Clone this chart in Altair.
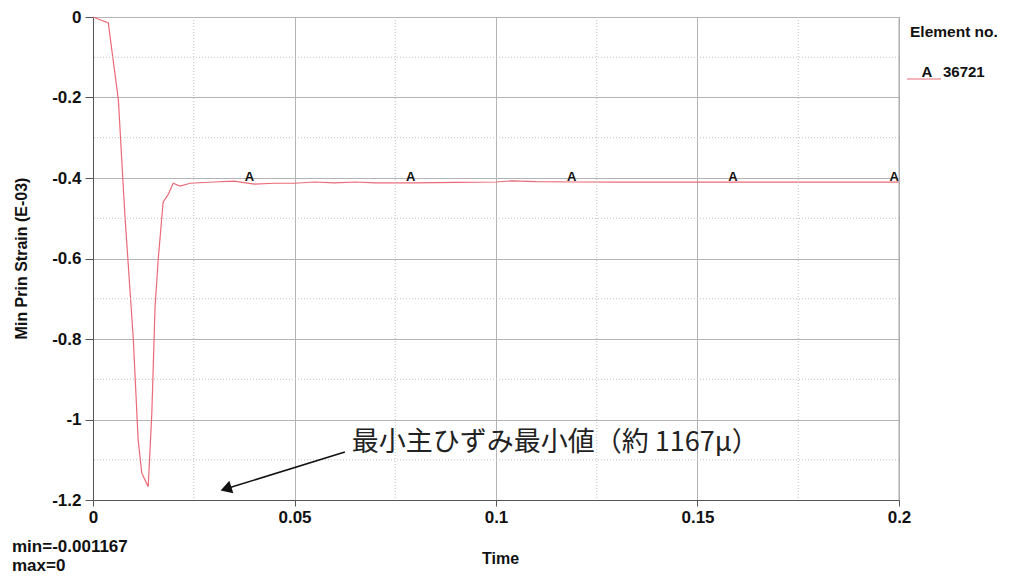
import altair as alt
import pandas as pd

# ---- data ----
time = [0.0, 0.0038, 0.0050, 0.0063, 0.0075, 0.0079, 0.0100, 0.0112, 0.0121, 0.0137,
        0.0146, 0.0154, 0.0162, 0.0174, 0.0187, 0.0199, 0.0216, 0.0241, 0.030, 0.035,
        0.040, 0.045, 0.050, 0.055, 0.060, 0.065, 0.070, 0.080, 0.090, 0.100, 0.104,
        0.110, 0.120, 0.130, 0.140, 0.150, 0.160, 0.170, 0.180, 0.190, 0.200]
strain = [0.0, -0.015, -0.107, -0.206, -0.42, -0.49, -0.80, -1.05, -1.133, -1.167,
          -0.984, -0.72, -0.60, -0.46, -0.44, -0.413, -0.42, -0.413, -0.41, -0.408,
          -0.415, -0.413, -0.413, -0.41, -0.412, -0.41, -0.412, -0.412, -0.411, -0.41, -0.407,
          -0.409, -0.41, -0.41, -0.41, -0.41, -0.41, -0.41, -0.41, -0.41, -0.41]

marker_time = [0.0388, 0.0788, 0.1188, 0.1588, 0.1988]
marker_label = ["A", "A", "A", "A", "A"]
marker_level = -0.397

x_major = [0, 0.05, 0.1, 0.15, 0.2]
x_minor = [0.025, 0.075, 0.125, 0.175]
y_major = [0, -0.2, -0.4, -0.6, -0.8, -1.0, -1.2]
y_minor = [-0.1, -0.3, -0.5, -0.7, -0.9, -1.1]

arrow_start = (0.0625, -1.081)
arrow_end = (0.0330, -1.172)
annot_text = "最小主ひずみ最小値（約 1167μ）"
annot_pos = (0.0642, -1.058)

legend_title = "Element no."
element_no = "36721"
min_text = "min=-0.001167"
max_text = "max=0"

FONT = "Liberation Sans"
RED = "#ec6a78"
FS = 17

df = pd.DataFrame({"t": time, "v": strain})
xs = alt.Scale(domain=[0, 0.2], nice=False, zero=False)
ys = alt.Scale(domain=[-1.2, 0], nice=False, zero=False)

xaxis = alt.Axis(values=x_major, labelExpr="'' + datum.value",
                 grid=True, gridColor="#b4b4b4", gridWidth=1,
                 domainColor="#555", tickColor="#555", tickSize=6,
                 labelFont=FONT, labelFontWeight="bold", labelFontSize=FS, labelColor="#111",
                 labelPadding=3, title="Time", titleFont=FONT, titleFontWeight="bold",
                 titleFontSize=FS - 1, titleColor="#111", titleX=407, titleY=58,
                 titleBaseline="middle", titleAnchor="middle", labelFlush=False)
yaxis = alt.Axis(values=y_major, labelExpr="'' + datum.value",
                 grid=True, gridColor="#b4b4b4", gridWidth=1,
                 domainColor="#555", tickColor="#555", tickSize=8,
                 labelFont=FONT, labelFontWeight="bold", labelFontSize=FS, labelColor="#111",
                 labelPadding=4, title="Min Prin Strain (E-03)", titleFont=FONT,
                 titleFontWeight="bold", titleFontSize=FS - 1, titleColor="#111",
                 titleX=-72, titleY=241, titleAngle=270, titleBaseline="middle",
                 titleAnchor="middle", labelFlush=False)


def X(f):
    return alt.X(f, type="quantitative", scale=xs, axis=xaxis)


def Y(f):
    return alt.Y(f, type="quantitative", scale=ys, axis=yaxis)


line = alt.Chart(df).mark_line(color=RED, strokeWidth=1.2).encode(x=X("t"), y=Y("v"))

minor_x = alt.Chart(pd.DataFrame({"t": x_minor})).mark_rule(
    color="#c0c0c0", strokeDash=[1, 2], strokeWidth=1).encode(x=X("t"))
minor_y = alt.Chart(pd.DataFrame({"v": y_minor})).mark_rule(
    color="#c0c0c0", strokeDash=[1, 2], strokeWidth=1).encode(y=Y("v"))
right_edge = alt.Chart(pd.DataFrame({"t": [0.2]})).mark_rule(
    color="#aaa", strokeWidth=1).encode(x=X("t"))

markers = alt.Chart(pd.DataFrame({"t": marker_time, "lab": marker_label,
                                  "v": [marker_level] * len(marker_time)})).mark_text(
    font=FONT, fontWeight="bold", fontSize=13, color="#111", baseline="middle").encode(
    x=X("t"), y=Y("v"), text="lab:N")

arrow_df = pd.DataFrame({"t": [arrow_start[0]], "v": [arrow_start[1]],
                         "t2": [arrow_end[0]], "v2": [arrow_end[1]]})
arrow_line = alt.Chart(arrow_df).mark_rule(color="#111", strokeWidth=1.6).encode(
    x=X("t"), y=Y("v"), x2="t2:Q", y2="v2:Q")
arrow_head = alt.Chart(pd.DataFrame({"t": [arrow_end[0]], "v": [arrow_end[1]]})).mark_point(
    shape="triangle-left", angle=342, size=170, filled=True, color="#111", opacity=1).encode(
    x=X("t"), y=Y("v"))

annot = alt.Chart(pd.DataFrame({"t": [annot_pos[0]], "v": [annot_pos[1]],
                                "s": [annot_text]})).mark_text(
    font="Noto Sans CJK JP", fontSize=27, color="#222", align="left",
    baseline="middle").encode(x=X("t"), y=Y("v"), text="s:N")

legend_t = alt.Chart(pd.DataFrame({"s": [legend_title]})).mark_text(
    font=FONT, fontWeight="bold", fontSize=15.5, color="#111", align="left",
    baseline="middle").encode(x=alt.value(817), y=alt.value(15), text="s:N")
legend_line = alt.Chart(pd.DataFrame({"a": [1]})).mark_rule(color=RED, strokeWidth=1).encode(
    x=alt.value(814), x2=alt.value(848), y=alt.value(62))
legend_a = alt.Chart(pd.DataFrame({"s": ["A"]})).mark_text(
    font=FONT, fontWeight="bold", fontSize=15, color="#111", align="center",
    baseline="middle").encode(x=alt.value(834), y=alt.value(55), text="s:N")
legend_no = alt.Chart(pd.DataFrame({"s": [element_no]})).mark_text(
    font=FONT, fontWeight="bold", fontSize=15, color="#111", align="left",
    baseline="middle").encode(x=alt.value(850), y=alt.value(55), text="s:N")

min_t = alt.Chart(pd.DataFrame({"s": [min_text]})).mark_text(
    font=FONT, fontWeight="bold", fontSize=FS, color="#111", align="left",
    baseline="middle").encode(x=alt.value(-81), y=alt.value(530), text="s:N")
max_t = alt.Chart(pd.DataFrame({"s": [max_text]})).mark_text(
    font=FONT, fontWeight="bold", fontSize=FS, color="#111", align="left",
    baseline="middle").encode(x=alt.value(-81), y=alt.value(549), text="s:N")

chart = alt.layer(line, minor_x, minor_y, right_edge, markers, arrow_line, arrow_head,
                  annot, legend_t, legend_line, legend_a, legend_no, min_t, max_t).properties(
    width=806, height=483,
    autosize=alt.AutoSizeParams(type="none"),
    padding={"left": 85, "top": 9, "right": 104, "bottom": 74},
).configure_view(stroke=None).configure(background="white")

chart.save("out.html", embed_options={"renderer": "svg", "actions": False})
